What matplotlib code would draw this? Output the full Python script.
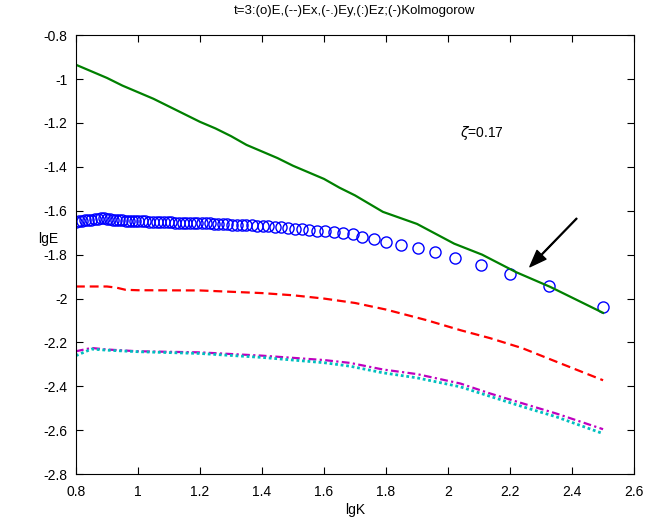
import matplotlib.pyplot as plt

plt.rcParams['font.family'] = ['Liberation Sans', 'DejaVu Sans']

# Kolmogorov line
k_kol = [0.80, 0.85, 0.90, 0.95, 1.00, 1.05, 1.10, 1.15, 1.20, 1.25, 1.30, 1.35, 1.40,
         1.45, 1.50, 1.55, 1.60, 1.65, 1.70, 1.79, 1.90, 2.02, 2.11, 2.22, 2.33, 2.50]
e_kol = [-0.935, -0.965, -0.995, -1.03, -1.06, -1.09, -1.125, -1.16, -1.195, -1.225, -1.26,
         -1.30, -1.33, -1.36, -1.395, -1.425, -1.455, -1.495, -1.53, -1.605, -1.66, -1.75,
         -1.80, -1.88, -1.947, -2.065]

# E (circles)
k_e = [0.80, 0.81, 0.82, 0.83, 0.84, 0.85, 0.86, 0.87, 0.88, 0.89, 0.90, 0.91, 0.92, 0.93,
       0.94, 0.95, 0.96, 0.97, 0.98, 0.99, 1.00, 1.012, 1.024, 1.036, 1.048, 1.06, 1.072,
       1.084, 1.096, 1.108, 1.12, 1.132, 1.144, 1.156, 1.168, 1.18, 1.192, 1.205, 1.218,
       1.231, 1.245, 1.259, 1.273, 1.288, 1.303, 1.318, 1.334, 1.35, 1.367, 1.384, 1.402,
       1.421, 1.441, 1.462, 1.484, 1.506, 1.529, 1.553, 1.578, 1.604, 1.631, 1.66, 1.693,
       1.723, 1.761, 1.80, 1.847, 1.902, 1.958, 2.023, 2.105, 2.20, 2.326, 2.501]
e_e = [-1.650, -1.648, -1.646, -1.644, -1.642, -1.640, -1.638, -1.636, -1.635, -1.635,
       -1.636, -1.638, -1.640, -1.642, -1.643, -1.644, -1.645, -1.646, -1.646, -1.646,
       -1.646, -1.647, -1.648, -1.649, -1.650, -1.650, -1.651, -1.652, -1.652, -1.653,
       -1.654, -1.655, -1.655, -1.656, -1.656, -1.657, -1.657, -1.658, -1.658, -1.658,
       -1.659, -1.660, -1.661, -1.662, -1.663, -1.664, -1.665, -1.666, -1.667, -1.668,
       -1.669, -1.670, -1.672, -1.675, -1.678, -1.681, -1.684, -1.687, -1.690, -1.693,
       -1.697, -1.701, -1.707, -1.719, -1.729, -1.742, -1.754, -1.769, -1.789, -1.815,
       -1.846, -1.889, -1.945, -2.038]

# Ex (dashed)
k_ex = [0.80, 0.85, 0.90, 0.93, 0.96, 1.00, 1.20, 1.40, 1.50, 1.60, 1.70, 1.80, 1.93,
        2.04, 2.135, 2.24, 2.35, 2.50]
e_ex = [-1.945, -1.945, -1.945, -1.95, -1.96, -1.962, -1.963, -1.975, -1.985, -2.0, -2.02,
        -2.05, -2.098, -2.144, -2.18, -2.226, -2.288, -2.372]

# Ey (dash-dot) and Ez (dotted)
k_yz = [0.80, 0.85, 0.90, 1.00, 1.20, 1.40, 1.50, 1.60, 1.684, 1.79, 1.90, 2.04, 2.135,
        2.242, 2.35, 2.50]
e_ey = [-2.24, -2.225, -2.232, -2.24, -2.245, -2.26, -2.27, -2.28, -2.293, -2.323, -2.344,
        -2.387, -2.432, -2.478, -2.524, -2.595]
e_ez = [-2.26, -2.23, -2.235, -2.242, -2.25, -2.268, -2.28, -2.292, -2.308, -2.338, -2.361,
        -2.402, -2.445, -2.493, -2.539, -2.615]

fig = plt.figure(figsize=(6.49, 5.24), dpi=100)
ax = fig.add_axes([0.117, 0.095, 0.86, 0.838])

ax.plot(k_e, e_e, 'o', mfc='none', mec='b', ms=8, mew=1.0)
ax.plot(k_ex, e_ex, '--', color='r', lw=1.6, dashes=(4, 2.2))
ax.plot(k_yz, e_ey, '-.', color=(0.75, 0, 0.75), lw=1.6, dashes=(3.5, 1.5, 1, 1.5))
ax.plot(k_yz, e_ez, ':', color=(0, 0.75, 0.75), lw=2.0, dashes=(1, 1))
ax.plot(k_kol, e_kol, '-', color=(0, 0.5, 0), lw=1.6)

ax.text(2.039, -1.246, r'$\zeta$=0.17', fontsize=10, va='center', ha='left')
ax.annotate('', xy=(2.264, -1.855), xytext=(2.415, -1.635),
            arrowprops=dict(facecolor='black', edgecolor='black', width=0.6,
                            headwidth=9, headlength=12, shrink=0))

ax.set_xlim(0.8, 2.6)
ax.set_ylim(-2.8, -0.8)
ax.set_xticks([0.8, 1.0, 1.2, 1.4, 1.6, 1.8, 2.0, 2.2, 2.4, 2.6])
ax.set_xticklabels(['0.8', '1', '1.2', '1.4', '1.6', '1.8', '2', '2.2', '2.4', '2.6'])
ax.set_yticks([-2.8, -2.6, -2.4, -2.2, -2.0, -1.8, -1.6, -1.4, -1.2, -1.0, -0.8])
ax.set_yticklabels(['-2.8', '-2.6', '-2.4', '-2.2', '-2', '-1.8', '-1.6', '-1.4', '-1.2', '-1', '-0.8'])
ax.tick_params(direction='in', top=True, right=True, length=5, labelsize=10)
ax.tick_params(axis='x', pad=8)
ax.tick_params(axis='y', pad=6)
ax.set_xlabel('lgK', fontsize=10, labelpad=3)
ax.set_ylabel('lgE', fontsize=10, rotation=0, ha='center', va='center')
ax.yaxis.set_label_coords(-0.05, 0.535)
ax.set_title('t=3:(o)E,(--)Ex,(-.)Ey,(:)Ez;(-)Kolmogorow', fontsize=9.5, pad=15)

fig.savefig('out.png', dpi=100)
